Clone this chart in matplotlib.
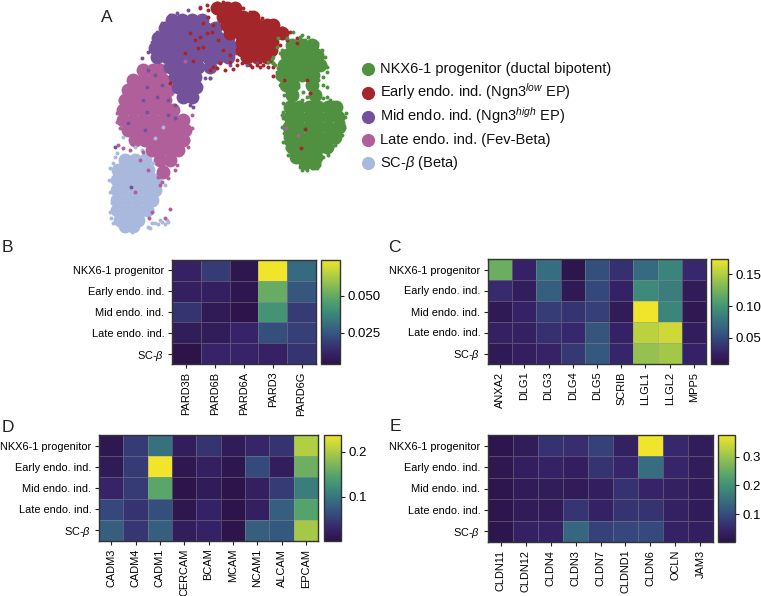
import numpy as np
import matplotlib
matplotlib.use("Agg")
import matplotlib.pyplot as plt
from matplotlib.colors import LinearSegmentedColormap
from matplotlib.lines import Line2D

plt.rcParams["font.family"] = ["Liberation Sans", "DejaVu Sans"]
plt.rcParams["mathtext.fontset"] = "custom"
plt.rcParams["mathtext.rm"] = "Liberation Sans"
plt.rcParams["mathtext.it"] = "Liberation Sans:italic"
plt.rcParams["mathtext.bf"] = "Liberation Sans:bold"
plt.rcParams["mathtext.fallback"] = "stixsans"

W, H = 761, 596

cell_types = ["NKX6-1 progenitor", "Early endo. ind.", "Mid endo. ind.", "Late endo. ind.", r"SC-$\beta$"]

legend_labels = [
    "NKX6-1 progenitor (ductal bipotent)",
    r"Early endo. ind. (Ngn3$^{low}$ EP)",
    r"Mid endo. ind. (Ngn3$^{high}$ EP)",
    "Late endo. ind. (Fev-Beta)",
    r"SC-$\beta$ (Beta)",
]
colors = ["#4f9140", "#a3262a", "#74529b", "#b15f9a", "#a9b9de"]

# embedding. core rows are {umap2: [umap1, ...]}, cells are single dots
green_core = {135: [695, 725, 755], 165: [680, 710, 740, 770], 195: [672, 702, 732, 762, 780],
              225: [665, 695, 725, 758], 255: [678, 700, 755], 285: [695, 765],
              320: [690, 718, 746, 775, 803, 828], 350: [690, 718, 746, 775, 803, 835],
              380: [688, 718, 746, 775, 803, 838], 410: [690, 718, 746, 775, 803, 825],
              440: [695, 722, 750, 778, 802], 470: [708, 738, 768], 490: [735, 762]}
green_cells = [(645, 195), (650, 230), (660, 255), (672, 285), (690, 290), (705, 285), (740, 290), (790, 255),
               (800, 260), (795, 195), (785, 150), (770, 130), (745, 112), (725, 105), (700, 95), (668, 310),
               (668, 355), (665, 380), (670, 425), (680, 445), (700, 475), (720, 500), (740, 510), (770, 505),
               (778, 495), (800, 455), (830, 425), (850, 385), (858, 340), (840, 320), (810, 300), (790, 295),
               (760, 300), (720, 110), (655, 115), (640, 170), (625, 185), (715, 262), (730, 275), (745, 262),
               (700, 305), (725, 300), (650, 140), (800, 215), (660, 160), (680, 115), (655, 205), (662, 240),
               (680, 275), (770, 280), (800, 290), (820, 305), (848, 365), (845, 405), (815, 440), (790, 470),
               (685, 465), (672, 400), (670, 335), (785, 175), (775, 240), (640, 190), (635, 178), (795, 170),
               (790, 230), (800, 200), (650, 215), (665, 150), (735, 120), (760, 125), (830, 310), (855, 350),
               (853, 385), (825, 435), (805, 465), (755, 505), (725, 510), (695, 465), (678, 430), (665, 345)]
red_core = {25: [470, 500, 525], 50: [490, 520, 550, 580], 75: [500, 530, 560, 590, 620, 640],
            100: [510, 540, 570, 600, 630, 665], 125: [545, 575, 605, 635], 150: [545, 575, 610, 632],
            172: [560, 590, 620]}
red_cells = [(440, 15), (470, 10), (490, 5), (520, 15), (550, 25), (590, 45), (630, 65), (665, 85), (690, 95),
             (710, 115), (465, 30), (500, 55), (445, 50), (460, 75), (430, 70), (420, 110), (405, 120), (390, 100),
             (430, 140), (415, 145), (400, 183), (375, 160), (450, 210), (470, 205), (495, 210), (520, 208),
             (555, 185), (570, 195), (610, 195), (640, 200), (620, 175), (600, 185), (545, 175), (510, 185),
             (480, 190), (330, 250), (750, 280), (722, 445), (740, 240), (672, 240), (735, 388), (640, 228),
             (455, 95), (475, 120), (490, 150), (510, 165), (530, 180), (460, 200), (650, 85), (605, 55), (570, 35),
             (535, 25), (680, 120), (710, 130), (660, 135), (640, 190), (590, 195), (440, 100), (445, 30), (420, 25),
             (575, 200), (600, 200), (625, 200), (530, 195), (545, 190), (655, 90), (675, 95)]
purple_core = {60: [335, 365, 395, 425], 85: [315, 345, 375, 405, 435, 465],
               115: [295, 325, 355, 385, 415, 445, 475, 505], 145: [285, 315, 345, 375, 405, 435, 465, 495, 525],
               170: [290, 320, 350, 380, 410, 445, 475, 505], 200: [330, 360, 390, 415, 450],
               230: [345, 375, 405], 260: [355, 385, 408], 290: [370, 395]}
purple_cells = [(470, 70), (480, 100), (500, 130), (590, 190), (250, 300), (260, 335), (205, 370), (255, 390),
                (165, 440), (212, 562), (325, 345), (345, 355), (290, 290), (265, 210), (245, 175), (330, 45),
                (305, 70), (400, 320), (450, 235), (560, 195), (325, 300), (275, 125), (265, 155), (290, 95),
                (350, 40), (385, 30), (420, 22), (435, 235), (415, 260), (390, 315), (345, 315), (305, 255),
                (285, 225), (260, 260), (510, 195)]
pink_core = {210: [250, 280, 300], 240: [220, 250, 280, 310], 270: [205, 235, 265, 295, 325],
             300: [195, 225, 255, 285, 315], 330: [190, 220, 250, 280, 310, 340],
             360: [190, 220, 250, 280, 310, 340, 370], 390: [205, 235, 265, 295, 325, 355, 375],
             420: [225, 255, 285, 315, 345, 368], 450: [275, 300, 330, 355], 480: [300, 330], 515: [310]}
pink_cells = [(225, 577), (330, 628), (315, 653), (275, 635), (268, 655), (240, 480), (265, 510), (300, 555),
              (678, 385), (715, 405), (175, 435), (190, 445), (385, 440), (395, 345), (180, 300), (172, 340),
              (210, 230), (240, 200), (350, 495), (325, 535), (375, 183), (450, 235), (172, 365), (180, 385),
              (210, 450), (250, 455), (395, 385), (385, 420), (360, 450), (345, 510), (295, 530), (305, 545)]
blue_core = {480: [195, 225, 255], 510: [175, 205, 235, 265], 540: [170, 200, 230, 260, 285],
             570: [170, 200, 230, 260, 285], 600: [170, 200, 230, 260, 275], 630: [170, 200, 230, 260],
             660: [180, 205, 235], 678: [195, 220]}
blue_cells = [(190, 410), (225, 440), (285, 415), (310, 380), (150, 505), (165, 470), (148, 540), (150, 635),
              (160, 670), (215, 695), (270, 685), (325, 665), (315, 555), (295, 575), (280, 490), (245, 450),
              (250, 480), (275, 670), (190, 690), (285, 668), (295, 672), (305, 665), (315, 672), (320, 660),
              (300, 660), (265, 680), (150, 575), (155, 610), (152, 655), (170, 460), (160, 490)]
clusters = [
    (blue_core, blue_cells, colors[4]),
    (pink_core, pink_cells, colors[3]),
    (purple_core, purple_cells, colors[2]),
    (red_core, red_cells, colors[1]),
    (green_core, green_cells, colors[0]),
]

genes_b = ["PARD3B", "PARD6B", "PARD6A", "PARD3", "PARD6G"]
values_b = [[.011, .018, .006, .074, .030],
            [.010, .010, .006, .051, .025],
            [.016, .008, .005, .042, .018],
            [.009, .009, .012, .023, .019],
            [.004, .012, .012, .011, .016]]
genes_c = ["ANXA2", "DLG1", "DLG3", "DLG4", "DLG5", "SCRIB", "LLGL1", "LLGL2", "MPP5"]
values_c = [[.121, .026, .072, .012, .054, .035, .070, .087, .030],
            [.032, .021, .063, .017, .049, .026, .092, .083, .019],
            [.017, .026, .042, .037, .044, .019, .174, .088, .016],
            [.024, .024, .035, .030, .057, .026, .154, .161, .021],
            [.017, .022, .027, .040, .059, .029, .138, .144, .026]]
genes_d = ["CADM3", "CADM4", "CADM1", "CERCAM", "BCAM", "MCAM", "NCAM1", "ALCAM", "EPCAM"]
values_d = [[.010, .048, .095, .018, .041, .015, .029, .041, .202],
            [.013, .048, .237, .008, .022, .006, .060, .018, .162],
            [.027, .048, .150, .003, .015, .004, .022, .048, .107],
            [.058, .041, .065, .006, .025, .003, .022, .079, .147],
            [.079, .044, .079, .018, .025, .003, .079, .072, .195]]
genes_e = ["CLDN11", "CLDN12", "CLDN4", "CLDN3", "CLDN7", "CLDND1", "CLDN6", "OCLN", "JAM3"]
values_e = [[.010, .029, .063, .059, .085, .037, .376, .051, .029],
            [.014, .033, .040, .033, .066, .048, .145, .048, .029],
            [.010, .025, .029, .025, .033, .063, .044, .037, .025],
            [.010, .025, .025, .070, .040, .066, .066, .037, .025],
            [.010, .037, .040, .137, .085, .093, .096, .040, .033]]

# viridis as it looks in the figure, a bit duller than the real one
cmap = LinearSegmentedColormap.from_list("dull_viridis", [
    (0.00, "#2c1348"), (0.12, "#37256b"), (0.25, "#354a7c"), (0.37, "#366a80"), (0.50, "#3d8a7a"),
    (0.62, "#55a36c"), (0.75, "#86bb55"), (0.88, "#bcd23f"), (1.00, "#f0e52a"),
])


def px_axes(fig, x0, y0, x1, y1):
    return fig.add_axes([x0 / W, 1 - y1 / H, (x1 - x0) / W, (y1 - y0) / H])


def rows_to_xy(rows):
    return np.array([(x, y) for y, xs in rows.items() for x in xs])


def heatmap(fig, box, cbox, values, genes, vmin, vmax, ticks, fmt):
    ax = px_axes(fig, *box)
    cax = px_axes(fig, *cbox)
    mesh = ax.pcolormesh(np.array(values), cmap=cmap, vmin=vmin, vmax=vmax,
                         edgecolors=(0.6, 0.6, 0.6, 0.4), linewidth=0.5)
    ax.invert_yaxis()
    ax.set_xticks(np.arange(len(genes)) + 0.5)
    ax.set_xticklabels(genes, rotation=90, fontsize=7.9)
    ax.set_yticks(np.arange(len(cell_types)) + 0.5)
    ax.set_yticklabels(cell_types, fontsize=7.9)
    ax.tick_params(length=3, width=0.8, color="#222222", pad=2.5)
    cb = fig.colorbar(mesh, cax=cax)
    cb.set_ticks(ticks)
    cb.set_ticklabels([fmt % t for t in ticks])
    cb.ax.tick_params(labelsize=9.5, length=3, width=0.8, color="#222222", pad=2.5)
    cb.outline.set_edgecolor("#333333")
    cb.outline.set_linewidth(1.0)
    for spine in ax.spines.values():
        spine.set_edgecolor("#333333")
        spine.set_linewidth(1.0)


fig = plt.figure(figsize=(W / 100, H / 100), dpi=100)

ax_a = px_axes(fig, 60, 0, 360, 240)
for core, cells, color in clusters:
    core_xy = rows_to_xy(core)
    cells_xy = np.array(cells)
    ax_a.scatter(core_xy[:, 0], core_xy[:, 1], s=100, color=color, linewidths=0, zorder=1)
    ax_a.scatter(cells_xy[:, 0], cells_xy[:, 1], s=8, color=color, linewidths=0, zorder=2)
ax_a.set_xlim(0, 900)
ax_a.set_ylim(720, 0)
ax_a.axis("off")

# legend rows have a superscript in them, so place them by hand to keep the spacing even
for label, color, y in zip(legend_labels, colors, [69, 93, 117, 140, 163]):
    fig.add_artist(Line2D([368 / W], [1 - y / H], linestyle="none", marker="o", markersize=9.5, color=color,
                          markeredgewidth=0, transform=fig.transFigure))
    fig.text(380 / W, 1 - (y + 4) / H, label, fontsize=10.5, color="#111111", ha="left", va="baseline")

heatmap(fig, (172, 260, 316, 364), (321, 260, 340, 364), values_b, genes_b, .0042, .0739, [.025, .05], "%.3f")
heatmap(fig, (488, 259, 706, 364), (711, 259, 728, 364), values_c, genes_c, .009, .174, [.05, .10, .15], "%.2f")
heatmap(fig, (99, 435, 318, 541), (324, 435, 341, 541), values_d, genes_d, .001, .237, [.1, .2], "%.1f")
heatmap(fig, (488, 435, 713, 542), (718, 435, 735, 542), values_e, genes_e, .003, .376, [.1, .2, .3], "%.1f")

for letter, x, y in [("A", 101, 22), ("B", 2, 252), ("C", 388, 252), ("D", 2, 432), ("E", 390, 431)]:
    fig.text(x / W, 1 - y / H, letter, fontsize=12.5, color="#222222", ha="left", va="baseline")

fig.savefig("out.png", dpi=100)
